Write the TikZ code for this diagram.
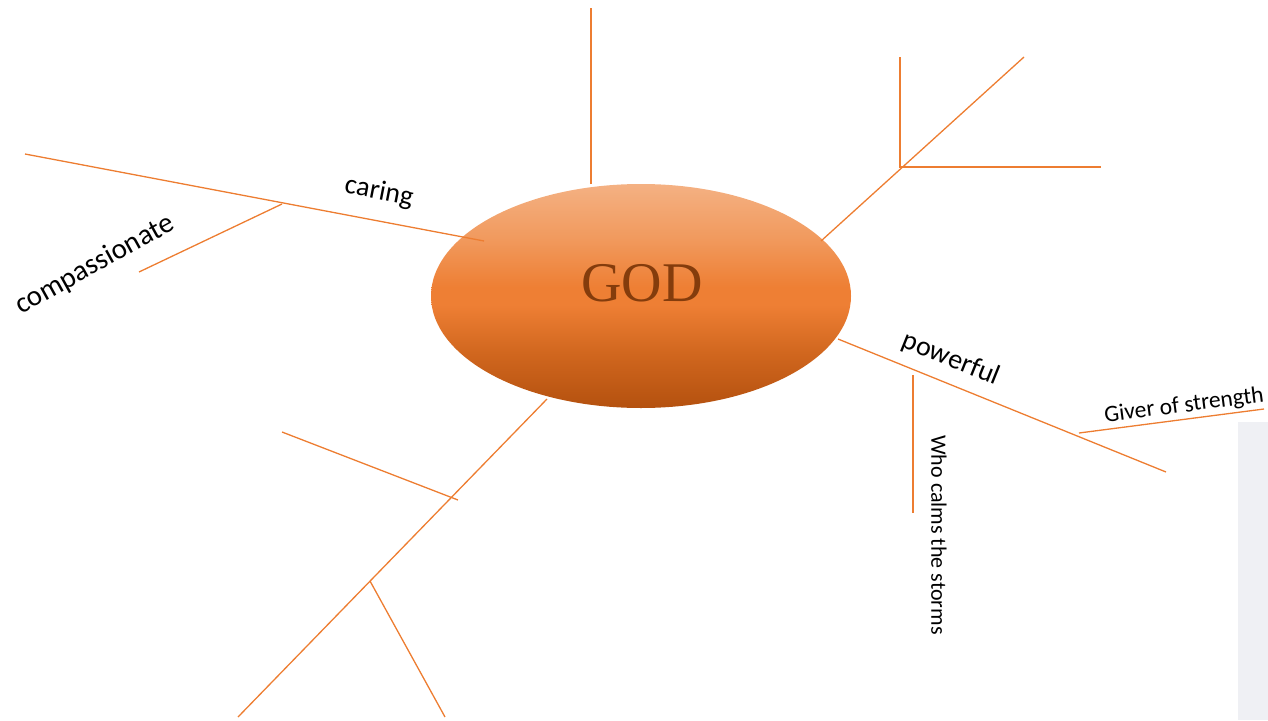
\documentclass[tikz,border=0pt]{standalone}
\usepackage{fontspec}
\setmainfont{Carlito}
\newfontfamily\godfont{Liberation Serif}
\usetikzlibrary{shapes.geometric}
\definecolor{lineor}{HTML}{ED7D31}
\definecolor{elltop}{HTML}{F4B183}
\definecolor{ellup}{HTML}{F19A5E}
\definecolor{ellmid}{HTML}{EE7F34}
\definecolor{elllow}{HTML}{D0661E}
\definecolor{ellbot}{HTML}{B4510F}
\definecolor{godcol}{HTML}{843C0C}
\definecolor{stripgray}{HTML}{EFF0F4}
\pgfdeclareverticalshading{godshade}{100bp}{color(0bp)=(ellbot); color(25bp)=(ellbot); color(37bp)=(elllow); color(48bp)=(ellmid); color(52bp)=(ellmid); color(63bp)=(ellup); color(75bp)=(elltop); color(100bp)=(elltop)}
\begin{document}
\begin{tikzpicture}[x=1pt,y=-1pt,
  branch/.style={draw=lineor, line width=1.3pt},
  biglbl/.style={font=\fontsize{28}{32}\selectfont, inner sep=0pt, text=black},
  smalllbl/.style={font=\fontsize{22}{26}\selectfont, inner sep=0pt, text=black}]
\useasboundingbox (0,0) rectangle (1268,720);
\fill[stripgray] (1238,422) rectangle (1268,720);
\node[ellipse, minimum width=420pt, minimum height=224pt, inner sep=0pt,
      shading=godshade] (god) at (641,296) {};
\node[font=\godfont\fontsize{56}{60}\selectfont, text=godcol, inner sep=0pt] (godtxt) at (642,283) {GOD};
% coordinates
\coordinate (tA) at (591,184); \coordinate (tB) at (591,8);
\coordinate (cA) at (484,241); \coordinate (cB) at (25,154);
\coordinate (cC) at (282,204); \coordinate (cD) at (139,272);
\coordinate (rA) at (821,241); \coordinate (rB) at (1024,57);
\coordinate (rC) at (900,168); \coordinate (rD) at (900,57);
\coordinate (rE) at (900,167); \coordinate (rF) at (1101,167);
\coordinate (pA) at (838,339); \coordinate (pB) at (1166,472);
\coordinate (pC) at (913,375); \coordinate (pD) at (913,513);
\coordinate (pE) at (1079,433); \coordinate (pF) at (1264,409);
\coordinate (bA) at (547,399); \coordinate (bB) at (238,717);
\coordinate (bC) at (282,432); \coordinate (bD) at (458,500);
\coordinate (bE) at (370,581); \coordinate (bF) at (445,717);
% connectors
\draw[branch] (tA) -- (tB);
\draw[branch] (cA) -- (cB);
\draw[branch] (cC) -- (cD);
\draw[branch] (rA) -- (rB);
\draw[branch] (rC) -- (rD);
\draw[branch] (rE) -- (rF);
\draw[branch] (pA) -- (pB);
\draw[branch] (pC) -- (pD);
\draw[branch] (pE) -- (pF);
\draw[branch] (bA) -- (bB);
\draw[branch] (bC) -- (bD);
\draw[branch] (bE) -- (bF);
% labels
\node[biglbl, rotate=-11] (caring) at (379,192) {caring};
\node[biglbl, rotate=29, font=\fontsize{29}{32}\selectfont] (comp) at (95,265) {compassionate};
\node[biglbl, rotate=-22] (pow) at (951,359) {powerful};
\node[smalllbl, rotate=7.4, font=\fontsize{23.5}{26}\selectfont] (giver) at (1184,406) {Giver of strength};
\node[smalllbl, rotate=-90] (calm) at (939,535) {Who calms the storms};
\end{tikzpicture}
\end{document}
